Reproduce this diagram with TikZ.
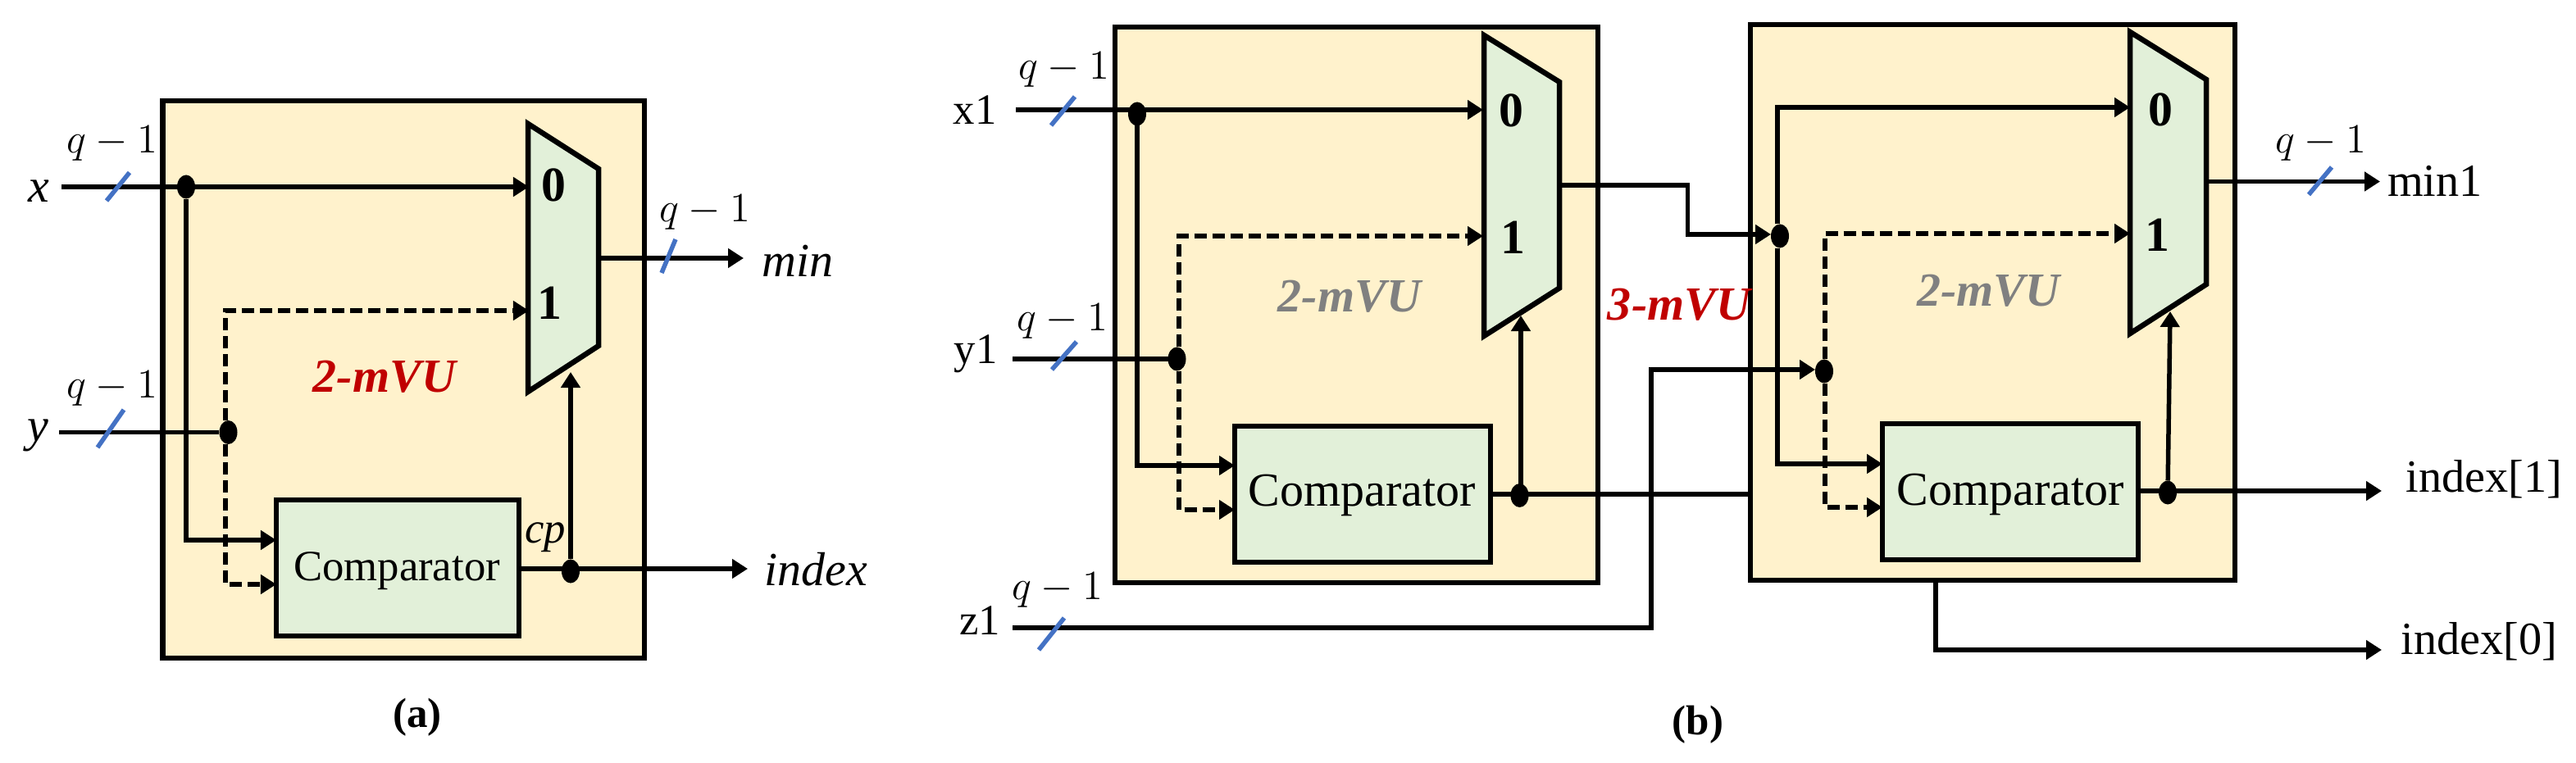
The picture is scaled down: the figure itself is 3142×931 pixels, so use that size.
\documentclass[tikz,border=0pt]{standalone}
\usepackage{fontspec}
\setmainfont{Liberation Serif}
\usetikzlibrary{arrows.meta,shapes.geometric,calc}
\definecolor{cream}{HTML}{FFF2CC}
\definecolor{pale}{HTML}{E2F0D9}
\definecolor{slashblue}{HTML}{4472C4}
\definecolor{darkred}{HTML}{C00000}
\definecolor{midgray}{HTML}{808080}
\newcommand{\fs}[1]{\fontsize{#1}{#1}\selectfont}
\tikzset{
  x=0.01cm,y=-0.01cm,
  block/.style={draw=black,fill=cream,line width=0.065cm},
  muxs/.style={draw=black,fill=pale,line width=0.065cm,line join=miter},
  cmpbox/.style={draw=black,fill=pale,line width=0.065cm,rectangle,inner sep=0,outer sep=0},
  cmpa/.style={cmpbox,minimum width=2.96cm,minimum height=1.66cm},
  cmpb/.style={cmpbox,minimum width=3.12cm,minimum height=1.66cm},
  sig/.style={draw=black,line width=0.055cm},
  wire/.style={sig,-{Triangle[length=0.19cm,width=0.23cm]}},
  dwire/.style={wire,dash pattern=on 0.15cm off 0.07cm},
  dot/.style={ellipse,fill=black,draw=none,inner sep=0,outer sep=0,minimum width=0.22cm,minimum height=0.29cm},
  slash/.style={draw=slashblue,line width=0.055cm},
  txt/.style={inner sep=0,outer sep=0,text=black,font=\fs{16}},
  ital/.style={txt,font=\fs{16.5}\itshape},
  wid/.style={txt,font=\fs{14}},
  muxn/.style={txt,font=\fs{17}\bfseries},
  capt/.style={txt,font=\fs{14.5}\bfseries},
  red/.style={txt,text=darkred,font=\fs{16.5}\bfseries\itshape},
  gray/.style={txt,text=midgray,font=\fs{16.5}\bfseries\itshape},
}
\begin{document}
\begin{tikzpicture}
\useasboundingbox (0,0) rectangle (3142,931);
% ---------- panel (a)
\draw[block] (198.5,123) rectangle (786,803);
\node[cmpa] (Acmp) at (485,693) {};
\node[txt,font=\fs{15}] (Acmpt) at (484,697) {Comparator};
\coordinate (Am1) at (644,151); \coordinate (Am2) at (730,206);
\coordinate (Am3) at (730,422); \coordinate (Am4) at (644,478);
\draw[muxs] (Am1)--(Am2)--(Am3)--(Am4)--cycle;
\node[muxn] (Am0t) at (675,226) {0};
\node[muxn] (Am1t) at (670,370) {1};
\node[dot] (Adx) at (227,228) {};
\node[dot] (Ady) at (278.5,527.5) {};
\node[dot] (Adc) at (696,697) {};
\coordinate (Axs) at (75,228); \coordinate (Ays) at (72,527.5);
\coordinate (Ain0) at (645,228); \coordinate (Ain1) at (645,379);
\coordinate (Acorner) at (275,379);
\coordinate (Acx) at (337,659); \coordinate (Acy) at (337,713);
\coordinate (Asel) at (696,454); \coordinate (Aout) at (730,315);
\coordinate (Amin) at (907,315); \coordinate (Aidxe) at (912,694);
\coordinate (Acs) at (633,694);
\draw[wire] (Axs) -- (Ain0);
\draw[sig] (Ays) -- (Ady);
\draw[dwire] (Ady.north -| Acorner) -- (Acorner) -- (Ain1);
\draw[wire] (Adx) |- (Acx);
\draw[dwire] (Ady.south -| Acorner) |- (Acy);
\draw[wire] (Adc) -- (Asel);
\draw[wire] (Acs) -- (Aidxe);
\draw[wire] (Aout) -- (Amin);
\coordinate (As1a) at (158,210.5); \coordinate (As1b) at (130,245);
\coordinate (As2a) at (151,500); \coordinate (As2b) at (119,546);
\coordinate (As3a) at (824,292); \coordinate (As3b) at (807,333);
\draw[slash] (As1a)--(As1b); \draw[slash] (As2a)--(As2b); \draw[slash] (As3a)--(As3b);
\node[wid] (Aq1) at (137,175) {$q-1$};
\node[wid] (Aq2) at (137,474) {$q-1$};
\node[wid] (Aq3) at (860,259) {$q-1$};
\node[ital] (Ax) at (47,233) {x};
\node[ital] (Ay) at (46,531) {y};
\node[ital] (Amint) at (973,318) {min};
\node[ital] (Aidx) at (995,695) {index};
\node[txt,font=\fs{15}\itshape] (Acp) at (665,656) {cp};
\node[red] (Alab) at (469,460) {2-mVU};
\node[capt] (Acap) at (509,875) {(a)};
% ---------- panel (b), first block
\draw[block] (1360,33) rectangle (1949,711);
\node[cmpb] (Bcmp) at (1662,603) {};
\node[txt,font=\fs{16.5}] (Bcmpt) at (1661,604) {Comparator};
\coordinate (Bm1) at (1810,43); \coordinate (Bm2) at (1902,100);
\coordinate (Bm3) at (1902,351.5); \coordinate (Bm4) at (1810,410);
\draw[muxs] (Bm1)--(Bm2)--(Bm3)--(Bm4)--cycle;
\node[muxn] (Bm0t) at (1843,135) {0};
\node[muxn] (Bm1t) at (1845,290) {1};
% second block
\draw[block] (2135,30) rectangle (2726,708);
\node[cmpb] (Ccmp) at (2452,600) {};
\node[txt,font=\fs{16.5}] (Ccmpt) at (2452,603) {Comparator};
\coordinate (Cm1) at (2598,39); \coordinate (Cm2) at (2691,97);
\coordinate (Cm3) at (2691,347); \coordinate (Cm4) at (2598,407);
\draw[muxs] (Cm1)--(Cm2)--(Cm3)--(Cm4)--cycle;
\node[muxn] (Cm0t) at (2635,134) {0};
\node[muxn] (Cm1t) at (2631.5,287) {1};
% dots
\node[dot] (Bdx) at (1387,139) {};
\node[dot] (Bdy) at (1435.5,438) {};
\node[dot] (Bdc) at (1853.5,604.5) {};
\node[dot] (Cdx) at (2171,288) {};
\node[dot] (Cdy) at (2225,453) {};
\node[dot] (Cdc) at (2644,601) {};
% first block wires
\coordinate (Bxs) at (1239,134); \coordinate (Bys) at (1235,438); \coordinate (Bzs) at (1235,766);
\coordinate (Bin0) at (1809,134); \coordinate (Bin1) at (1809,288);
\coordinate (Bcorner) at (1438,288);
\coordinate (Bcx) at (1506,568); \coordinate (Bcy) at (1506,622);
\coordinate (Bsel) at (1855,385); \coordinate (Bdcb) at (1855,604.5);
\coordinate (Bout) at (1902,226); \coordinate (Bbend1) at (2058.5,226); \coordinate (Bbend2) at (2058.5,286);
\coordinate (Bcs) at (1818,603); \coordinate (Bcend) at (2135,603);
\coordinate (Bz1) at (2014,766); \coordinate (Bz2) at (2014,451);
\draw[wire] (Bxs) -- (Bin0);
\draw[sig] (Bys) -- (Bdy);
\draw[dwire] (Bdy.north -| Bcorner) -- (Bcorner) -- (Bin1);
\draw[wire] (Bdx) |- (Bcx);
\draw[dwire] (Bdy.south -| Bcorner) |- (Bcy);
\draw[wire] (Bdcb) -- (Bsel);
\draw[sig] (Bcs) -- (Bcend);
\draw[wire] (Bout) -- (Bbend1) -- (Bbend2) -- (Cdx.west |- Bbend2);
\draw[wire] (Bzs) -- (Bz1) -- (Bz2) -- (Cdy.west |- Bz2);
% second block wires
\coordinate (Ccorner) at (2226,285);
\coordinate (Ctop) at (2168,131);
\coordinate (Cin0) at (2598,131); \coordinate (Cin1) at (2598,285);
\coordinate (Ccx) at (2296,566); \coordinate (Ccy) at (2296,619);
\coordinate (Csel) at (2647,380);
\coordinate (Ccs) at (2608,599); \coordinate (Cidx1) at (2905,599);
\coordinate (Cout) at (2691,221.5); \coordinate (Cmin) at (2903,221.5);
\coordinate (Cb) at (2361,708); \coordinate (Cb2) at (2361,793); \coordinate (Cidx0) at (2905,793);
\draw[wire] (Cdx.north -| Ctop) -- (Ctop) -- (Cin0);
\draw[wire] (Cdx.south -| Ctop) |- (Ccx);
\draw[dwire] (Cdy.north -| Ccorner) -- (Ccorner) -- (Cin1);
\draw[dwire] (Cdy.south -| Ccorner) |- (Ccy);
\draw[wire] (Cdc) -- (Csel);
\draw[wire] (Ccs) -- (Cidx1);
\draw[wire] (Cout) -- (Cmin);
\draw[wire] (Cb) -- (Cb2) -- (Cidx0);
% slashes
\coordinate (Bs1a) at (1311,118); \coordinate (Bs1b) at (1282,153);
\coordinate (Bs2a) at (1313,417); \coordinate (Bs2b) at (1283,451);
\coordinate (Bs3a) at (1298,754); \coordinate (Bs3b) at (1267,793);
\coordinate (Cs1a) at (2844,204); \coordinate (Cs1b) at (2816,237.5);
\draw[slash] (Bs1a)--(Bs1b); \draw[slash] (Bs2a)--(Bs2b); \draw[slash] (Bs3a)--(Bs3b); \draw[slash] (Cs1a)--(Cs1b);
% labels
\node[wid] (Bq1) at (1298,85) {$q-1$};
\node[wid] (Bq2) at (1296,392) {$q-1$};
\node[wid] (Bq3) at (1290,720) {$q-1$};
\node[wid] (Cq1) at (2831,175) {$q-1$};
\node[txt,font=\fs{15}] (Bx1) at (1189,134) {x1};
\node[txt,font=\fs{15}] (By1) at (1190,432) {y1};
\node[txt,font=\fs{15}] (Bz1t) at (1195,757) {z1};
\node[gray] (Blab) at (1646,362) {2-mVU};
\node[red] (Dlab) at (2048,372) {3-mVU};
\node[gray] (Clab) at (2425.5,354.5) {2-mVU};
\node[txt] (Cmint) at (2970,221) {min1};
\node[txt] (Ci1) at (3030,585) {index[1]};
\node[txt] (Ci0) at (3024,783) {index[0]};
\node[capt] (Dcap) at (2071,884) {(b)};
\end{tikzpicture}
\end{document}
